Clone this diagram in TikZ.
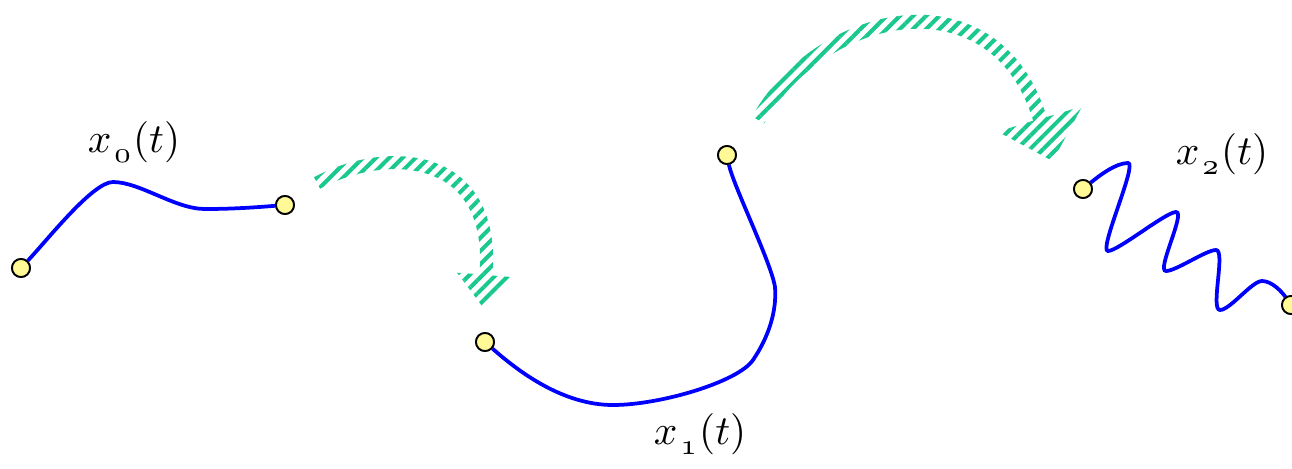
\documentclass[tikz,border=0pt]{standalone}
\usetikzlibrary{patterns.meta}
\definecolor{curveblue}{RGB}{0,0,255}
\definecolor{dotyellow}{RGB}{255,250,150}
\definecolor{hatchgreen}{RGB}{25,200,140}
\tikzset{
  declare function={
    bz(\ut,\ua,\ub,\uc,\ud)=(1-\ut)*(1-\ut)*(1-\ut)*\ua+3*(1-\ut)*(1-\ut)*\ut*\ub+3*(1-\ut)*\ut*\ut*\uc+\ut*\ut*\ut*\ud;
    dbz(\ut,\ua,\ub,\uc,\ud)=(3*(1-\ut)*(1-\ut)*(\ub-\ua)+6*(1-\ut)*\ut*(\uc-\ub)+3*\ut*\ut*(\ud-\uc))/100;
  },
  curve/.style={draw=curveblue, line width=0.075cm},
  dot/.style={circle, draw=black, fill=dotyellow, line width=0.036cm, minimum size=0.36cm, inner sep=0pt},
  lbl/.style={scale=2.35, anchor=base, inner sep=0pt},
  hatch/.style={pattern={Lines[angle=45,distance=5.3pt,line width=2.3pt]}, pattern color=hatchgreen},
}
\newcommand\lsub[1]{_{\mkern1.5mu\lower1pt\hbox{$\scriptstyle\oldstylenums{#1}$}}}
% #1..#8 : control points of the centre line, #9 : half width of the band
\newcommand\hatcharrow[9]{%
  \pgfmathsetmacro\hL{veclen((#7-#5)/100,(#8-#6)/100)*100}%
  \pgfmathsetmacro\hux{(#7-#5)/\hL}%
  \pgfmathsetmacro\huy{(#8-#6)/\hL}%
  \fill[hatch]
    plot[domain=0:1,samples=60,variable=\vv]
      ({bz(\vv,#1,#3,#5,#7)-#9*dbz(\vv,#2,#4,#6,#8)/veclen(dbz(\vv,#1,#3,#5,#7),dbz(\vv,#2,#4,#6,#8))},
       {bz(\vv,#2,#4,#6,#8)+#9*dbz(\vv,#1,#3,#5,#7)/veclen(dbz(\vv,#1,#3,#5,#7),dbz(\vv,#2,#4,#6,#8))})
    -- ({#7-\headW*\huy},{#8+\headW*\hux})
    -- ({#7+\headL*\hux},{#8+\headL*\huy})
    -- ({#7+\headW*\huy},{#8-\headW*\hux})
    -- plot[domain=1:0,samples=60,variable=\vv]
      ({bz(\vv,#1,#3,#5,#7)+#9*dbz(\vv,#2,#4,#6,#8)/veclen(dbz(\vv,#1,#3,#5,#7),dbz(\vv,#2,#4,#6,#8))},
       {bz(\vv,#2,#4,#6,#8)-#9*dbz(\vv,#1,#3,#5,#7)/veclen(dbz(\vv,#1,#3,#5,#7),dbz(\vv,#2,#4,#6,#8))})
    -- cycle;
}
\begin{document}
\begin{tikzpicture}[x=0.02cm,y=-0.02cm]
\useasboundingbox (0,0) rectangle (1292,468);

% hatched arrows
\def\headW{29}\def\headL{33}
\hatcharrow{317}{183}{383}{147}{496}{148}{486}{275}{6.5}
\def\headW{44}\def\headL{44}
\hatcharrow{758}{120}{822}{7}{996}{-27.5}{1040}{119}{7}

% end points
\node[dot] (a0) at (21,268) {};
\node[dot] (b0) at (285,205) {};
\node[dot] (a1) at (485,342) {};
\node[dot] (b1) at (727,155) {};
\node[dot] (a2) at (1083,189) {};
\node[dot] (b2) at (1291,305) {};

% curves
\draw[curve] (a0) .. controls (49,238) and (93,182) .. (113,182)
  .. controls (140,182) and (175,209) .. (205,209)
  .. controls (235,209) and (260,207) .. (b0);
\draw[curve] (a1) .. controls (519,372) and (563,405) .. (613,405)
  .. controls (660,405) and (738,382) .. (753,360)
  .. controls (768,338) and (777,312) .. (775,287)
  .. controls (771,262) and (733,185) .. (b1);
\draw[curve] (a2) .. controls (1100,175) and (1116,163) .. (1128,163)
  .. controls (1138,163) and (1098,251) .. (1108,251)
  .. controls (1118,251) and (1166,212) .. (1176,212)
  .. controls (1186,212) and (1156,271) .. (1166,271)
  .. controls (1176,271) and (1206,250) .. (1216,250)
  .. controls (1226,250) and (1210,310) .. (1220,310)
  .. controls (1230,310) and (1252,281) .. (1262,281)
  .. controls (1272,281) and (1282,292) .. (b2);

% redraw dots on top
\foreach \n in {a0,b0,a1,b1,a2,b2} \node[dot] at (\n.center) {};

% labels
\node[lbl] (l0) at (134,152) {$x\lsub{0}(t)$};
\node[lbl] (l1) at (700,444) {$x\lsub{1}(t)$};
\node[lbl] (l2) at (1222,164) {$x\lsub{2}(t)$};
\end{tikzpicture}
\end{document}
